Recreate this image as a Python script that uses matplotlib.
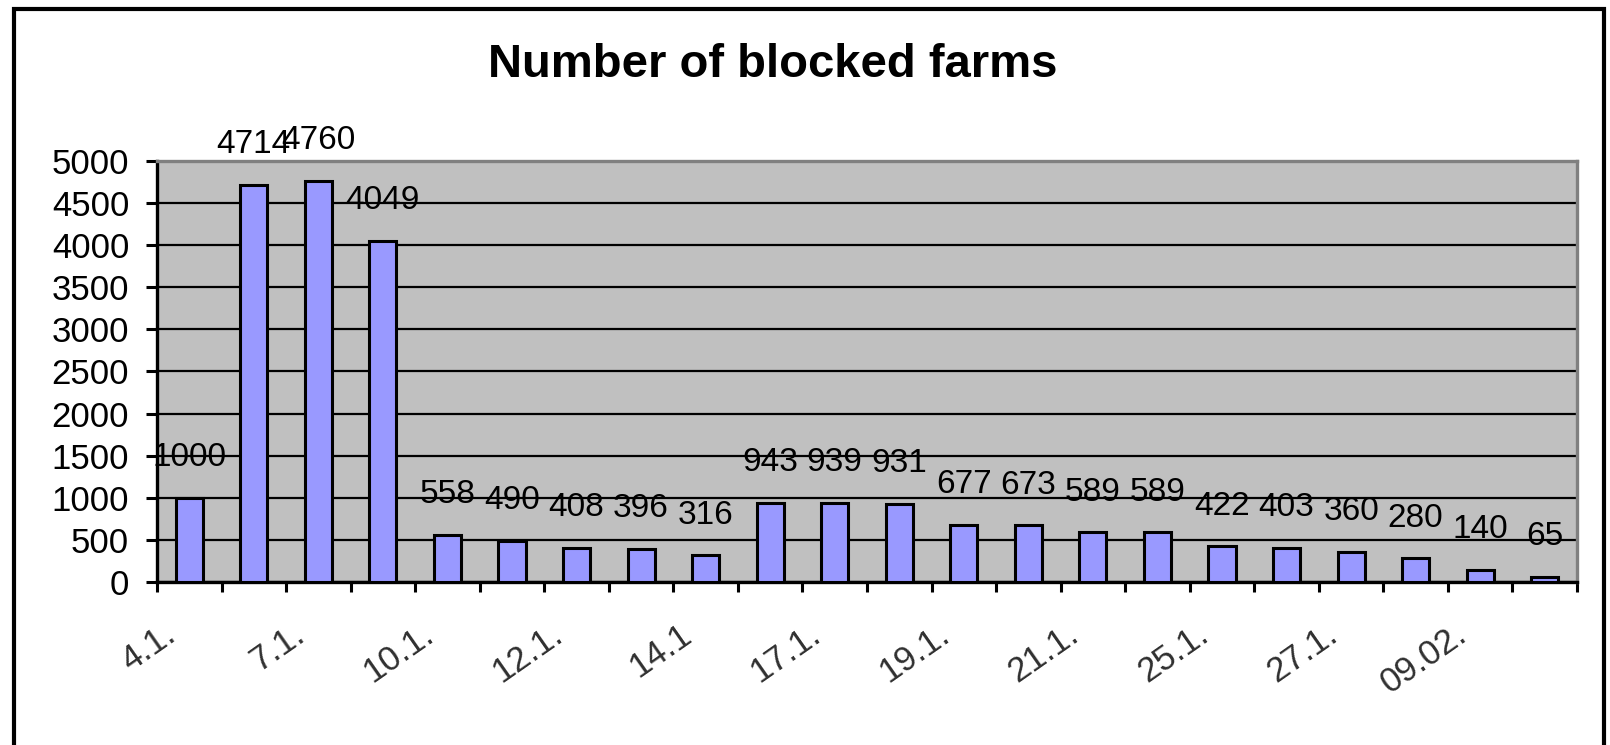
import matplotlib
matplotlib.use("Agg")
import matplotlib.pyplot as plt
import matplotlib.patches as patches
from matplotlib.transforms import ScaledTranslation
import numpy as np

plt.rcParams['font.family'] = ['Liberation Sans', 'DejaVu Sans']

# blocked farms per day (22 days, only every second date is labelled)
blocked = [1000, 4714, 4760, 4049, 558, 490, 408, 396, 316, 943, 939,
           931, 677, 673, 589, 589, 422, 403, 360, 280, 140, 65]
date_labels = ['4.1.', '7.1.', '10.1.', '12.1.', '14.1', '17.1.',
               '19.1.', '21.1.', '25.1.', '27.1.', '09.02.']
y_ticks = list(range(0, 5001, 500))

fig = plt.figure(figsize=(16.1, 7.45), dpi=100)
fig.patch.set_facecolor('white')

# outer frame of the chart object
frame = patches.Rectangle((0.0085, -0.02), 0.988, 1.0085, transform=fig.transFigure,
                          fill=False, edgecolor='black', linewidth=3.0)
fig.add_artist(frame)

fig.text(0.480, 0.913, 'Number of blocked farms', ha='center', va='center',
         fontsize=34, fontweight='bold')

ax = fig.add_axes([0.0975, 0.2188, 0.882, 0.5651])
ax.set_facecolor('#C0C0C0')

x = np.arange(len(blocked))
ax.set_axisbelow(True)
ax.yaxis.grid(True, color='black', linewidth=1.6)
ax.bar(x, blocked, width=0.42, color='#9999FF', edgecolor='black', linewidth=2.2, zorder=3)

# value labels sit above the bars; neighbouring ones touch, as in the original
for xi, v in zip(x, blocked):
    ax.annotate(str(v), (xi, v), xytext=(0, 29), textcoords='offset points',
                ha='center', va='center', fontsize=24, annotation_clip=False, zorder=4)

ax.set_xlim(-0.5, len(blocked) - 0.5)
ax.set_ylim(0, 5000)
ax.set_yticks(y_ticks)
ax.set_yticklabels([str(t) for t in y_ticks], fontsize=25)
ax.tick_params(axis='y', length=8, width=2.2, pad=12, color='black')

# tick marks at category boundaries, labels on every second category
ax.set_xticks(np.arange(-0.5, len(blocked), 1.0))
ax.set_xticklabels([])
ax.tick_params(axis='x', which='major', length=7, width=2.2, color='black')
ax.set_xticks(x[::2], minor=True)
ax.set_xticklabels(date_labels, minor=True, fontsize=25, color='#303030',
                   rotation=35, ha='right', va='baseline', rotation_mode='anchor')
ax.tick_params(axis='x', which='minor', length=0, pad=41)
shift = ScaledTranslation(-12 / 100, 0, fig.dpi_scale_trans)
for lbl in ax.get_xticklabels(minor=True):
    lbl.set_transform(lbl.get_transform() + shift)

for side in ('left', 'bottom'):
    ax.spines[side].set_color('black')
    ax.spines[side].set_linewidth(2.4)
for side in ('top', 'right'):
    ax.spines[side].set_color('#808080')
    ax.spines[side].set_linewidth(2.4)

fig.savefig('out.png', dpi=100, facecolor='white')
